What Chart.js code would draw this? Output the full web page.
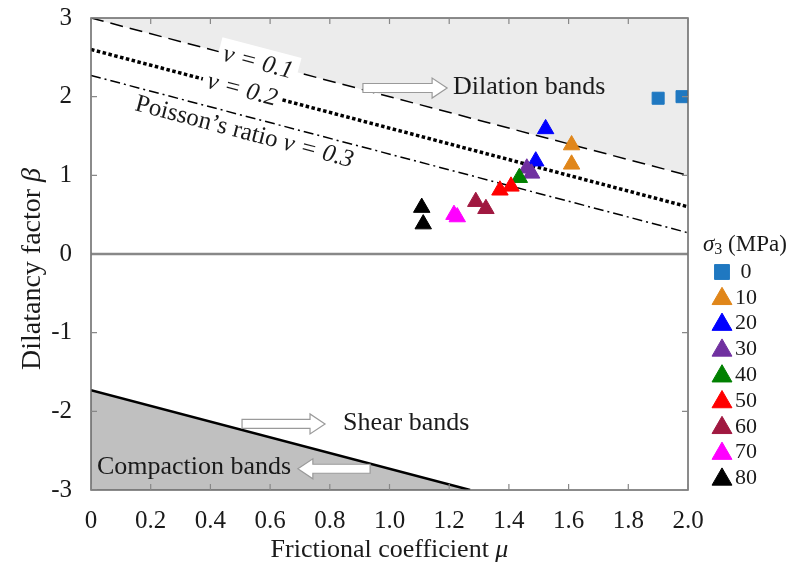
<!DOCTYPE html>
<html>
<head>
<meta charset="utf-8">
<script src="https://cdn.jsdelivr.net/npm/chart.js@4.4.1/dist/chart.umd.min.js"></script>
<style>
  html, body { margin: 0; padding: 0; background: #fff; }
  canvas { display: block; }
</style>
</head>
<body>
<canvas id="chart" width="793" height="577"></canvas>
<script>
// axis ticks
const muTicks = [0, 0.2, 0.4, 0.6, 0.8, 1.0, 1.2, 1.4, 1.6, 1.8, 2.0];
const muTickLabels = ['0', '0.2', '0.4', '0.6', '0.8', '1.0', '1.2', '1.4', '1.6', '1.8', '2.0'];
const betaTicks = [-3, -2, -1, 0, 1, 2, 3];
const betaTickLabels = ['-3', '-2', '-1', '0', '1', '2', '3'];

// confining pressure groups (sigma3, MPa)
const sigmaLevels = ['0', '10', '20', '30', '40', '50', '60', '70', '80'];
const sigmaColors = ['#1f78c1', '#e0861a', '#0000ff', '#7030a0', '#008000', '#ff0000', '#a01840', '#ff00ff', '#000000'];
const sigmaMu = [
  [1.90, 1.98],
  [1.61, 1.61],
  [1.523, 1.49],
  [1.46, 1.476],
  [1.435],
  [1.37, 1.407],
  [1.289, 1.323],
  [1.216, 1.227],
  [1.108, 1.113]
];
const sigmaBeta = [
  [1.98, 2.00],
  [1.385, 1.14],
  [1.59, 1.18],
  [1.09, 1.025],
  [0.97],
  [0.81, 0.86],
  [0.665, 0.575],
  [0.50, 0.47],
  [0.59, 0.38]
];

// localization limits for Poisson's ratio 0.1 / 0.2 / 0.3, and the compaction limit
const lineMu = [0, 2];
const nu01Beta = [3.0, 1.0];
const nu02Beta = [2.6, 0.6];
const nu03Beta = [2.27, 0.27];
const compactionMu = [0, 1.27];
const compactionBeta = [-1.73, -3];

const serif = "'Liberation Serif', 'Times New Roman', serif";
const ink = '#1a1a1a';

function pts(xs, ys) {
  return xs.map((x, i) => ({ x: x, y: ys[i] }));
}

const scatterSets = sigmaLevels.map((s, i) => ({
  type: 'scatter',
  label: s,
  data: pts(sigmaMu[i], sigmaBeta[i]),
  pointStyle: i === 0 ? 'rect' : 'triangle',
  pointRadius: i === 0 ? 8.5 : 9.5,
  pointBackgroundColor: sigmaColors[i],
  pointBorderColor: sigmaColors[i],
  pointBorderWidth: 1
}));

const lineSets = [
  { data: pts(lineMu, nu01Beta), borderDash: [13, 7], borderWidth: 1.5, fill: 'end', backgroundColor: '#ececec' },
  { data: pts(lineMu, nu02Beta), borderDash: [3.5, 2.5], borderWidth: 3.5, fill: false },
  { data: pts(lineMu, nu03Beta), borderDash: [10, 4, 2, 4], borderWidth: 1.5, fill: false },
  { data: pts(compactionMu, compactionBeta), borderWidth: 2.5, fill: 'start', backgroundColor: '#c0c0c0' }
].map(d => Object.assign({ type: 'line', borderColor: '#000', pointRadius: 0, tension: 0 }, d));

function textRuns(ctx, runs, x, y, align) {
  let w = 0;
  runs.forEach(r => { ctx.font = r.font; w += ctx.measureText(r.text).width; });
  let cx = align === 'center' ? x - w / 2 : x;
  runs.forEach(r => {
    ctx.font = r.font;
    ctx.fillText(r.text, cx, y + (r.dy || 0));
    cx += ctx.measureText(r.text).width;
  });
  return w;
}

function blockArrow(ctx, x1, x2, y, dir) {
  const shaft = 4.5, head = 10, headLen = 15;
  const tip = dir > 0 ? x2 : x1;
  const tail = dir > 0 ? x1 : x2;
  const neck = tip - dir * headLen;
  ctx.beginPath();
  ctx.moveTo(tail, y - shaft);
  ctx.lineTo(neck, y - shaft);
  ctx.lineTo(neck, y - head);
  ctx.lineTo(tip, y);
  ctx.lineTo(neck, y + head);
  ctx.lineTo(neck, y + shaft);
  ctx.lineTo(tail, y + shaft);
  ctx.closePath();
  ctx.fillStyle = '#ffffff';
  ctx.fill();
  ctx.strokeStyle = '#9a9a9a';
  ctx.lineWidth = 1.2;
  ctx.stroke();
}

function marker(ctx, style, r, x, y, color) {
  ctx.beginPath();
  if (style === 'rect') {
    const h = r * Math.SQRT1_2;
    ctx.rect(x - h, y - h, 2 * h, 2 * h);
  } else {
    for (let k = 0; k < 3; k++) {
      const a = k * 2 * Math.PI / 3;
      const px = x + Math.sin(a) * r, py = y - Math.cos(a) * r;
      if (k === 0) ctx.moveTo(px, py); else ctx.lineTo(px, py);
    }
    ctx.closePath();
  }
  ctx.fillStyle = color;
  ctx.strokeStyle = color;
  ctx.lineWidth = 1;
  ctx.fill();
  ctx.stroke();
}

const decor = {
  id: 'decor',
  beforeDatasetsDraw(chart) {
    const { ctx, chartArea: a, scales: { x, y } } = chart;
    ctx.save();
    ctx.strokeStyle = '#888';
    ctx.lineWidth = 2.5;
    ctx.beginPath();
    ctx.moveTo(a.left, y.getPixelForValue(0));
    ctx.lineTo(a.right, y.getPixelForValue(0));
    ctx.stroke();
    ctx.restore();
  },
  afterDatasetsDraw(chart) {
    const { ctx, chartArea: a, scales: { x, y } } = chart;
    ctx.save();

    // frame and inward ticks
    ctx.strokeStyle = '#666';
    ctx.lineWidth = 1.5;
    ctx.strokeRect(a.left, a.top, a.right - a.left, a.bottom - a.top);
    ctx.strokeStyle = '#888';
    ctx.lineWidth = 1.2;
    ctx.beginPath();
    muTicks.forEach(v => {
      const px = x.getPixelForValue(v);
      ctx.moveTo(px, a.bottom); ctx.lineTo(px, a.bottom - 6);
      ctx.moveTo(px, a.top); ctx.lineTo(px, a.top + 6);
    });
    betaTicks.forEach(v => {
      const py = y.getPixelForValue(v);
      ctx.moveTo(a.left, py); ctx.lineTo(a.left + 6, py);
      ctx.moveTo(a.right, py); ctx.lineTo(a.right - 6, py);
    });
    ctx.stroke();

    // Poisson's ratio labels along the lines
    const ang = Math.atan2(y.getPixelForValue(nu01Beta[1]) - y.getPixelForValue(nu01Beta[0]),
      x.getPixelForValue(lineMu[1]) - x.getPixelForValue(lineMu[0]));
    const it = 'italic 25px ' + serif, rm = '25px ' + serif;
    const nuLabel = (mu, line, runs, off, box) => {
      const b = line[0] + (line[1] - line[0]) * (mu - lineMu[0]) / (lineMu[1] - lineMu[0]);
      ctx.save();
      ctx.translate(x.getPixelForValue(mu), y.getPixelForValue(b));
      ctx.rotate(ang);
      ctx.textBaseline = 'middle';
      let w = 0;
      runs.forEach(r => { ctx.font = r.font; w += ctx.measureText(r.text).width; });
      if (box) {
        ctx.fillStyle = '#fff';
        ctx.fillRect(-w / 2 - 5, off - 15, w + 10, 30);
      }
      ctx.fillStyle = ink;
      textRuns(ctx, runs, 0, off + 1, 'center');
      ctx.restore();
    };
    nuLabel(0.56, nu01Beta, [{ text: 'ν = 0.1', font: it }], 0, true);
    nuLabel(0.507, nu02Beta, [{ text: 'ν = 0.2', font: it }], 0, true);
    nuLabel(0.527, nu03Beta, [{ text: 'Poisson’s ratio ', font: rm }, { text: 'ν = 0.3', font: it }], 15, false);

    // region annotations
    ctx.textBaseline = 'middle';
    ctx.font = '26px ' + serif;
    blockArrow(ctx, x.getPixelForValue(0.911), x.getPixelForValue(1.193), y.getPixelForValue(2.11), 1);
    ctx.fillStyle = ink;
    ctx.fillText('Dilation bands', x.getPixelForValue(1.213), y.getPixelForValue(2.12));
    blockArrow(ctx, x.getPixelForValue(0.506), x.getPixelForValue(0.784), y.getPixelForValue(-2.16), 1);
    ctx.fillStyle = ink;
    ctx.fillText('Shear bands', x.getPixelForValue(0.844), y.getPixelForValue(-2.15));
    blockArrow(ctx, x.getPixelForValue(0.693), x.getPixelForValue(0.935), y.getPixelForValue(-2.73), -1);
    ctx.fillStyle = ink;
    ctx.fillText('Compaction bands', x.getPixelForValue(0.02), y.getPixelForValue(-2.71));

    // axis titles
    textRuns(ctx, [{ text: 'Frictional coefficient ', font: '26px ' + serif }, { text: 'μ', font: 'italic 26px ' + serif }],
      (a.left + a.right) / 2, 550, 'center');
    ctx.save();
    ctx.translate(33, 269);
    ctx.rotate(-Math.PI / 2);
    textRuns(ctx, [{ text: 'Dilatancy factor ', font: '28px ' + serif }, { text: 'β', font: 'italic 28px ' + serif }], 0, 0, 'center');
    ctx.restore();

    // legend
    textRuns(ctx, [
      { text: 'σ', font: 'italic 23px ' + serif },
      { text: '3', font: '16px ' + serif, dy: 5 },
      { text: ' (MPa)', font: '23px ' + serif }
    ], 703, 245, 'left');
    sigmaLevels.forEach((s, i) => {
      const ly = 272 + i * 25.8;
      marker(ctx, i === 0 ? 'rect' : 'triangle', i === 0 ? 10.5 : 11.5, 722, ly + (i === 0 ? 0 : 1), sigmaColors[i]);
      ctx.fillStyle = ink;
      ctx.font = '22px ' + serif;
      ctx.textAlign = 'center';
      ctx.fillText(s, 746, ly);
      ctx.textAlign = 'left';
    });
    ctx.restore();
  }
};

new Chart(document.getElementById('chart').getContext('2d'), {
  type: 'scatter',
  data: { datasets: scatterSets.slice().reverse().concat(lineSets) },
  options: {
    responsive: false,
    animation: false,
    devicePixelRatio: 1,
    layout: { padding: { top: 18, right: 105, bottom: 0, left: 0 } },
    plugins: { legend: { display: false }, tooltip: { enabled: false } },
    scales: {
      x: {
        type: 'linear', min: 0, max: 2,
        afterBuildTicks: s => { s.ticks = muTicks.map(v => ({ value: v })); },
        afterFit: s => { s.height = 87; s.paddingLeft = 0; s.paddingRight = 0; },
        grid: { display: false, drawTicks: false },
        border: { display: false },
        ticks: { padding: 16, color: ink, font: { family: serif, size: 25 }, maxRotation: 0, autoSkip: false,
          callback: (v, i) => muTickLabels[i] }
      },
      y: {
        type: 'linear', min: -3, max: 3,
        afterBuildTicks: s => { s.ticks = betaTicks.map(v => ({ value: v })); },
        afterFit: s => { s.width = 91; s.paddingTop = 0; s.paddingBottom = 0; },
        grid: { display: false, drawTicks: false },
        border: { display: false },
        ticks: { padding: 19, color: ink, font: { family: serif, size: 25 }, autoSkip: false,
          callback: (v, i) => betaTickLabels[i] }
      }
    }
  },
  plugins: [decor]
});
</script>
</body>
</html>
